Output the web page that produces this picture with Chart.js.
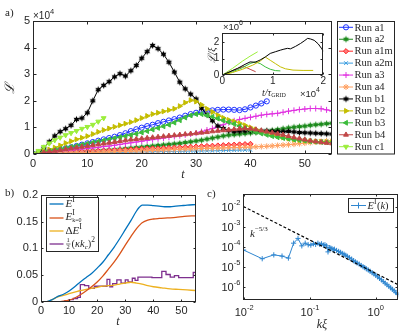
<!DOCTYPE html>
<html><head><meta charset="utf-8">
<script src="https://cdn.jsdelivr.net/npm/chart.js@4.4.1/dist/chart.umd.min.js"></script>
<style>
html,body{margin:0;padding:0;background:#fff;width:403px;height:335px;overflow:hidden;position:relative}
canvas{position:absolute}
</style></head><body>
<canvas id="ca" width="403" height="180" style="left:0;top:0"></canvas>
<canvas id="ci" width="135" height="80" style="left:200px;top:20px"></canvas>
<canvas id="cb" width="200" height="165" style="left:0;top:170px"></canvas>
<canvas id="cc" width="203" height="165" style="left:200px;top:170px"></canvas>
<script>
// ---------------- DATA ----------------
// panel a: time axis and L (x10^4) per run
const tSteps = [0,1,2,3,4,5,6,7,8,9,10,11,12,13,14,15,16,17,18,19,20,21,22,23,24,25,26,27,28,29,30,31,32,33,34,35,36,37,38,39,40,41,42,43,44,45,46,47,48,49,50,51,52,53,54,55];
const runA1 = [0,0.03,0.06,0.1,0.13,0.17,0.21,0.25,0.3,0.35,0.4,0.45,0.5,0.55,0.6,0.65,0.71,0.78,0.86,0.93,0.99,1.05,1.1,1.16,1.21,1.26,1.31,1.37,1.44,1.5,1.55,1.58,1.61,1.64,1.66,1.67,1.67,1.66,1.65,1.68,1.75,1.82,1.9,1.98];
const runA2 = [0,0.01,0.02,0.03,0.04,0.05,0.06,0.07,0.08,0.09,0.1,0.11,0.12,0.13,0.15,0.16,0.18,0.2,0.22,0.24,0.26,0.28,0.3,0.32,0.34,0.36,0.38,0.4,0.43,0.46,0.49,0.52,0.56,0.6,0.64,0.68,0.71,0.73,0.75,0.77,0.79,0.81,0.83,0.86,0.89,0.92,0.95,0.98,1.01,1.03,1.05,1.08,1.1,1.12,1.14,1.16];
const runA1m = [0,0.01,0.03,0.04,0.05,0.06,0.07,0.08,0.09,0.1,0.1,0.11,0.12,0.13,0.14,0.15,0.15,0.16,0.17,0.18,0.19,0.2,0.21,0.21,0.22,0.23,0.24,0.25,0.26,0.27,0.28,0.29,0.3,0.31,0.32,0.33,0.34,0.35,0.36,0.37,0.38];
const runA2m = [0,0.005,0.01,0.015,0.02,0.025,0.03,0.03,0.035,0.04,0.04,0.045,0.05,0.05,0.055,0.06,0.06,0.065,0.07,0.07,0.075,0.08,0.085,0.09,0.09,0.095,0.1,0.1,0.105,0.11,0.11,0.115,0.12,0.12,0.125,0.13,0.135,0.14,0.145,0.15,0.155];
const runA3 = [0,0.02,0.04,0.06,0.08,0.1,0.12,0.14,0.16,0.19,0.21,0.23,0.25,0.28,0.3,0.33,0.36,0.39,0.42,0.45,0.48,0.51,0.54,0.57,0.6,0.63,0.66,0.69,0.72,0.75,0.78,0.84,0.9,0.96,1.03,1.1,1.18,1.25,1.3,1.34,1.38,1.42,1.46,1.49,1.51,1.53,1.57,1.61,1.64,1.67,1.69,1.71,1.71,1.7,1.66,1.62];
const runA4 = [0,0.005,0.01,0.015,0.02,0.025,0.03,0.035,0.04,0.045,0.05,0.057,0.064,0.071,0.078,0.085,0.092,0.1,0.107,0.114,0.12,0.128,0.136,0.144,0.152,0.16,0.168,0.176,0.184,0.192,0.2,0.206,0.212,0.218,0.224,0.23,0.236,0.242,0.248,0.254,0.26,0.27,0.28,0.29,0.305,0.32,0.335,0.35,0.37,0.39,0.41,0.43,0.45,0.47,0.49,0.5];
const runB1 = [0,0.05,0.22,0.46,0.68,0.84,0.95,1.08,1.3,1.35,1.55,2.0,2.42,2.58,2.72,2.9,3.02,2.93,3.13,3.33,3.6,3.85,4.08,3.96,3.75,3.45,3.08,2.7,2.45,2.25,2.07,1.72,1.48,1.25,1.05,0.96,0.88,0.85,0.86,0.87,0.88,0.87,0.86,0.86,0.85,0.84,0.84,0.85,0.83,0.81,0.8,0.79,0.78,0.77,0.76,0.75];
const runB2 = [0,0.03,0.1,0.17,0.24,0.32,0.41,0.48,0.55,0.61,0.67,0.75,0.83,0.9,0.96,1.02,1.08,1.14,1.2,1.27,1.35,1.43,1.5,1.55,1.6,1.65,1.7,1.8,1.93,2.02,1.97,1.85,1.7,1.58,1.46,1.36,1.28,1.22,1.16,1.08,1.0,0.92,0.85,0.78,0.72,0.67,0.62,0.58,0.55,0.52,0.5,0.48,0.47,0.46,0.45,0.44];
const runB3 = [0,0.03,0.07,0.11,0.15,0.19,0.23,0.27,0.31,0.35,0.39,0.43,0.47,0.51,0.55,0.59,0.63,0.67,0.71,0.76,0.81,0.86,0.92,0.98,1.04,1.1,1.18,1.27,1.37,1.45,1.5,1.5,1.45,1.4,1.33,1.26,1.2,1.13,1.05,0.97,0.9,0.83,0.77,0.72,0.67,0.63,0.6,0.57,0.54,0.52,0.5,0.48,0.46,0.45,0.44,0.43];
const runB4 = [0,0.03,0.06,0.09,0.12,0.15,0.18,0.21,0.24,0.27,0.3,0.33,0.36,0.39,0.42,0.45,0.48,0.51,0.54,0.56,0.58,0.6,0.62,0.64,0.66,0.68,0.7,0.72,0.74,0.76,0.78,0.8,0.82,0.85,0.87,0.89,0.91,0.93,0.95,0.96,0.95,0.92,0.88,0.84,0.8,0.76,0.72,0.67,0.62,0.58,0.54,0.5,0.47,0.44,0.42,0.4];
const runC1 = [0,0.12,0.27,0.4,0.52,0.62,0.71,0.79,0.87,0.95,1.02,1.1,1.22,1.35];
const runNames = ['Run a1','Run a2','Run a1m','Run a2m','Run a3','Run a4','Run b1','Run b2','Run b3','Run b4','Run c1'];
const aXTicks = [0,10,20,30,40,50];
const aYTicks = [0,1,2,3,4,5];

// inset: t/tau_GRID (x10^4) and L/xi (x10^6)
const insT_b1 = [0,0.15,0.3,0.45,0.55,0.65,0.75,0.85,0.95,1.05,1.15,1.22,1.29,1.35,1.45,1.55,1.62,1.69,1.75,1.82,1.9,1.97,2.0];
const insL_b1 = [0,0.2,0.4,0.65,0.8,0.78,0.92,1.1,1.32,1.42,1.52,1.58,1.63,1.6,1.75,1.93,2.08,2.24,2.2,2.12,1.9,1.6,1.45];
const insT_c1 = [0,0.2,0.4,0.55,0.7];
const insL_c1 = [0,0.4,0.85,1.15,1.42];
const insT_b2 = [0,0.2,0.4,0.6,0.75,0.85,0.95,1.05,1.15,1.25,1.4,1.6,1.8];
const insL_b2 = [0,0.15,0.35,0.6,0.85,1.1,0.9,0.7,0.5,0.38,0.3,0.28,0.28];
const insT_b3 = [0,0.2,0.4,0.55,0.65,0.75,0.85,0.95,1.05,1.15];
const insL_b3 = [0,0.2,0.45,0.7,0.8,0.7,0.5,0.35,0.27,0.25];
const insT_b4 = [0,0.15,0.3,0.43,0.55,0.66];
const insL_b4 = [0,0.2,0.4,0.52,0.35,0.2];
const insXTicks = [0,1,2];
const insYTicks = [0,1,2];

// panel b
const tE = [0,2,4,6,8,10,12,14,16,18,20,22,24,26,28,30,32,34,35,36,38,40,42,44,46,48,50,52,55];
const vE = [0,0,0.004,0.01,0.014,0.02,0.028,0.037,0.045,0.053,0.063,0.074,0.088,0.102,0.118,0.135,0.152,0.17,0.177,0.181,0.181,0.18,0.179,0.178,0.178,0.179,0.18,0.181,0.182];
const tEk0 = [0,6,8,10,12,14,16,18,20,22,24,26,28,30,32,34,35,36,38,40,42,45,48,51,55];
const vEk0 = [0,0,0.001,0.003,0.007,0.013,0.02,0.028,0.037,0.048,0.061,0.074,0.089,0.106,0.122,0.137,0.143,0.148,0.153,0.155,0.156,0.157,0.158,0.16,0.161];
const tDE = [0,2,4,6,8,10,12,14,16,18,20,22,24,26,28,30,32,34,36,38,40,43,46,49,52,55];
const vDE = [0,0,0.004,0.009,0.012,0.015,0.018,0.021,0.023,0.025,0.027,0.029,0.03,0.031,0.033,0.035,0.0365,0.035,0.033,0.03,0.028,0.026,0.024,0.023,0.022,0.021];
const tKap = [0,8.5,10,11.5,13,14,15.5,17,19,23.5,24.5,25.5,27,28.5,30,31,32.5,33.5,34.5,36,39.5,41,43,44.5,46,47.5,49,50.5,53,54.2,55];
const vKap = [0,0.002,0.004,0.006,0.008,0.032,0.03,0.025,0.029,0.042,0.028,0.034,0.041,0.035,0.041,0.037,0.044,0.04,0.046,0.046,0.045,0.045,0.057,0.051,0.046,0.049,0.045,0.045,0.045,0.055,0.05];
const bXTicks = [0,10,20,30,40,50];
const bYTicks = [0,0.05,0.1,0.15,0.2];
const bYLabels = ['0','0.05','0.1','0.15','0.2'];

// panel c
const kXi = [0.0098,0.0188,0.0282,0.0376,0.047,0.0564,0.0658,0.0752,0.0846,0.094,0.103,0.113,0.122,0.132,0.141,0.150,0.160,0.169,0.179,0.188,0.197,0.207,0.216,0.226,0.235,0.254,0.273,0.292,0.31,0.33,0.35,0.37,0.40,0.43,0.46,0.49,0.52,0.56,0.60,0.64,0.68,0.72,0.77,0.82,0.88,0.94,1.0,1.07,1.14,1.22,1.30,1.39,1.48,1.58,1.68,1.79,1.9,2.02,2.14,2.19];
const Ek = [6.8e-5,2.5e-5,3.9e-5,3.4e-5,2.7e-5,1.5e-4,2.6e-4,1.1e-4,1.5e-4,1.25e-4,1.2e-4,1.4e-4,1.3e-4,1.5e-4,1.3e-4,1.4e-4,1.2e-4,1.25e-4,1.1e-4,5.5e-5,9e-5,8.5e-5,8e-5,7e-5,7.5e-5,6.5e-5,5.8e-5,5.2e-5,4.6e-5,4.2e-5,3.7e-5,3.3e-5,2.8e-5,2.4e-5,2.0e-5,1.75e-5,1.55e-5,1.35e-5,1.15e-5,1.0e-5,9e-6,7.8e-6,6.8e-6,5.9e-6,5.0e-6,4.3e-6,3.7e-6,3.1e-6,2.6e-6,2.2e-6,1.8e-6,1.5e-6,1.25e-6,1.05e-6,8.8e-7,7.4e-7,6.2e-7,5.2e-7,4.5e-7,4.0e-7];
const slopeK = [0.0097, 2.2];
const slopeE = [1.03e-2, 1.25e-6];
const cXTicks = [0.01, 0.1, 1];
const cXExp = ['-2','-1','0'];
const cYTicks = [1e-2, 1e-3, 1e-4, 1e-5, 1e-6];
const cYExp = ['-2','-3','-4','-5','-6'];

// ---------------- STYLE / HELPERS ----------------
const SANS = '"Liberation Sans", Arial, Helvetica, sans-serif';
const SERIF = '"Liberation Serif", "Times New Roman", "DejaVu Serif", serif';
const AX = '#262626';
Chart.defaults.font.family = SANS;
Chart.defaults.color = AX;
const S = s => s + 'px ' + SERIF;
const IS = s => 'italic ' + s + 'px ' + SERIF;
const SS = s => s + 'px ' + SANS;

function makeHex(color, r) {
  const s = Math.ceil(2 * r + 2);
  const c = document.createElement('canvas'); c.width = s; c.height = s;
  const g = c.getContext('2d'); g.translate(s / 2, s / 2);
  g.beginPath();
  for (let i = 0; i < 12; i++) {
    const a = -Math.PI / 2 + i * Math.PI / 6, rr = i % 2 ? r * 0.55 : r;
    const px = rr * Math.cos(a), py = rr * Math.sin(a);
    i ? g.lineTo(px, py) : g.moveTo(px, py);
  }
  g.closePath(); g.fillStyle = color; g.fill();
  return c;
}

const runStyles = [
  {c:'#1f33ff', ps:'circle', bg:'rgba(0,0,0,0)', rot:0, r:2.6},
  {c:'#1c8a1c', ps:makeHex('#1c8a1c', 3.4), bg:'#1c8a1c', rot:0, r:3},
  {c:'#ff2424', ps:'rectRot', bg:'#ff7a7a', rot:0, r:2.6},
  {c:'#3a9ee0', ps:'crossRot', bg:'#3a9ee0', rot:0, r:2.6},
  {c:'#e030e0', ps:'cross', bg:'#e030e0', rot:0, r:3},
  {c:'#ffa060', ps:'star', bg:'#ffa060', rot:0, r:3},
  {c:'#000000', ps:makeHex('#000000', 3.4), bg:'#000000', rot:0, r:3},
  {c:'#c4bd00', ps:'triangle', bg:'#c4bd00', rot:90, r:2.8},
  {c:'#3cbc3c', ps:'triangle', bg:'#3cbc3c', rot:-90, r:2.8},
  {c:'#c04646', ps:'triangle', bg:'#c04646', rot:0, r:2.8},
  {c:'#9cee3c', ps:'triangle', bg:'#9cee3c', rot:180, r:2.8}
];
const runData = [runA1, runA2, runA1m, runA2m, runA3, runA4, runB1, runB2, runB3, runB4, runC1];

function xy(xs, ys) { return ys.map((v, i) => ({x: xs[i], y: v})); }

function segW(ctx, segs) {
  let w = 0;
  for (const s of segs) { ctx.font = s.f; if (!s.keep) w += ctx.measureText(s.t).width + (s.dx || 0); }
  return w;
}
function drawSegs(ctx, x, y, segs, align) {
  let cx = x;
  if (align === 'center') cx = x - segW(ctx, segs) / 2;
  if (align === 'right') cx = x - segW(ctx, segs);
  ctx.textBaseline = 'middle'; ctx.textAlign = 'left';
  for (const s of segs) {
    ctx.font = s.f;
    ctx.fillText(s.t, cx + (s.dx || 0), y + (s.dy || 0));
    if (!s.keep) cx += ctx.measureText(s.t).width + (s.dx || 0);
  }
  return cx;
}

function frame(tl) {
  return {
    id: 'frame',
    afterDatasetsDraw(chart) {
      const {ctx, chartArea: a, scales} = chart;
      ctx.save();
      ctx.strokeStyle = AX; ctx.lineWidth = 1;
      const L = Math.round(a.left) + 0.5, R = Math.round(a.right) - 0.5;
      const T = Math.round(a.top) + 0.5, B = Math.round(a.bottom) - 0.5;
      ctx.beginPath();
      for (const t of scales.x.ticks) {
        const p = Math.round(scales.x.getPixelForValue(t.value)) + 0.5;
        ctx.moveTo(p, B); ctx.lineTo(p, B - tl);
        ctx.moveTo(p, T); ctx.lineTo(p, T + tl);
      }
      for (const t of scales.y.ticks) {
        const p = Math.round(scales.y.getPixelForValue(t.value)) + 0.5;
        ctx.moveTo(L, p); ctx.lineTo(L + tl, p);
        ctx.moveTo(R, p); ctx.lineTo(R - tl, p);
      }
      ctx.stroke();
      ctx.strokeRect(L, T, R - L, B - T);
      ctx.restore();
    }
  };
}
// tick labels drawn at the library's own tick pixels
function tickText(size, xLabels, yLabels, xdy, ydx) {
  return {
    id: 'tickText',
    afterDraw(chart) {
      const {ctx, chartArea: a, scales} = chart;
      ctx.save(); ctx.fillStyle = AX; ctx.font = SS(size); ctx.textBaseline = 'middle';
      ctx.textAlign = 'center';
      scales.x.ticks.forEach((t, i) => ctx.fillText(xLabels ? xLabels[i] : String(t.value), scales.x.getPixelForValue(t.value), a.bottom + xdy));
      ctx.textAlign = 'right';
      scales.y.ticks.forEach((t, i) => ctx.fillText(yLabels ? yLabels[i] : String(t.value), a.left - ydx, scales.y.getPixelForValue(t.value)));
      ctx.restore();
    }
  };
}
function fitAxis(w, h) {
  return function (s) {
    if (w !== null) s.width = w;
    if (h !== null) s.height = h;
    s.paddingLeft = 0; s.paddingRight = 0; s.paddingTop = 0; s.paddingBottom = 0;
  };
}
function baseOpts(pad) {
  return {
    responsive: false, animation: false, devicePixelRatio: 1, events: [],
    layout: {autoPadding: false, padding: pad},
    plugins: {legend: {display: false}, tooltip: {enabled: false}, title: {display: false}}
  };
}
function linAxis(min, max, ticks, fit) {
  return {
    type: 'linear', min: min, max: max,
    afterBuildTicks: s => { s.ticks = ticks.map(v => ({value: v})); },
    ticks: {display: false}, grid: {display: false}, border: {display: false}, afterFit: fit
  };
}
function logAxis(min, max, ticks, fit) {
  return {
    type: 'logarithmic', min: min, max: max,
    afterBuildTicks: s => { s.ticks = ticks.map(v => ({value: v})); },
    ticks: {display: false}, grid: {display: false}, border: {display: false}, afterFit: fit
  };
}
function mkPoint(ctx, st, x, y) {
  ctx.save();
  ctx.strokeStyle = st.c; ctx.fillStyle = st.bg; ctx.lineWidth = 1;
  Chart.helpers.drawPoint(ctx, {pointStyle: st.ps, rotation: st.rot, radius: st.r, borderWidth: 1}, x, y);
  ctx.restore();
}

// ---------------- PANEL A ----------------
const annotA = {
  id: 'annotA',
  afterDraw(chart) {
    const ctx = chart.ctx;
    ctx.save();
    ctx.fillStyle = AX;
    drawSegs(ctx, 5, 13, [{t: 'a)', f: S(11)}]);
    drawSegs(ctx, 33, 16, [{t: '×10', f: SS(10)}, {t: '4', f: SS(7.5), dy: -4}]);
    drawSegs(ctx, 183, 175, [{t: 't', f: IS(12)}], 'center');
    ctx.save(); ctx.translate(11, 88); ctx.rotate(-Math.PI / 2);
    drawSegs(ctx, 0, 0, [{t: 'ℒ', f: IS(13)}], 'center');
    ctx.restore();
    // legend
    const bx = 337.5, by = 21.5, bw = 57, bh = 132.5;
    ctx.fillStyle = '#fff'; ctx.fillRect(bx, by, bw, bh);
    ctx.strokeStyle = AX; ctx.lineWidth = 1; ctx.strokeRect(bx, by, bw, bh);
    for (let i = 0; i < runNames.length; i++) {
      const y = 27.3 + i * 11.94, st = runStyles[i];
      ctx.strokeStyle = st.c; ctx.lineWidth = 1;
      ctx.beginPath(); ctx.moveTo(339, y); ctx.lineTo(353, y); ctx.stroke();
      mkPoint(ctx, st, 346, y);
      ctx.fillStyle = AX;
      drawSegs(ctx, 354.5, y + 0.5, [{t: runNames[i], f: S(10.5)}]);
    }
    ctx.restore();
  }
};
new Chart(document.getElementById('ca'), {
  type: 'line',
  data: {datasets: runData.map((vals, i) => ({
    label: runNames[i], data: xy(tSteps, vals), order: 100 - i,
    borderColor: runStyles[i].c, borderWidth: 1, fill: false, tension: 0,
    pointStyle: runStyles[i].ps, pointRadius: runStyles[i].r, pointRotation: runStyles[i].rot,
    pointBorderColor: runStyles[i].c, pointBackgroundColor: runStyles[i].bg, pointBorderWidth: 1
  }))},
  options: Object.assign(baseOpts({left: 8, top: 21, right: 71, bottom: 6}), {
    scales: {
      x: linAxis(0, 55, aXTicks, fitAxis(null, 20)),
      y: linAxis(0, 5, aYTicks, fitAxis(25, null))
    }
  }),
  plugins: [frame(3), tickText(11, null, null, 10, 3), annotA]
});

// ---------------- INSET ----------------
const insetBg = {
  id: 'insetBg',
  beforeDraw(chart) {
    const {ctx, chartArea: a} = chart;
    ctx.save(); ctx.fillStyle = '#fff'; ctx.fillRect(a.left, a.top, a.right - a.left, a.bottom - a.top); ctx.restore();
  },
  afterDraw(chart) {
    const ctx = chart.ctx;
    ctx.save(); ctx.fillStyle = AX;
    drawSegs(ctx, 23, 7.5, [{t: '×10', f: SS(9.5)}, {t: '6', f: SS(7), dy: -4}]);
    drawSegs(ctx, 100, 74, [{t: '×10', f: SS(9.5)}, {t: '4', f: SS(7), dy: -4}]);
    drawSegs(ctx, 62, 73, [{t: 't/τ', f: IS(10)}, {t: 'GRID', f: S(6), dy: 2.5}]);
    ctx.translate(12, 35); ctx.rotate(-Math.PI / 2);
    drawSegs(ctx, 0, 0, [{t: 'ℒ/ξ', f: IS(10)}], 'center');
    ctx.restore();
  }
};
const insetSets = [
  [insT_b1, insL_b1, '#000000'], [insT_c1, insL_c1, '#9cee3c'], [insT_b2, insL_b2, '#c4bd00'],
  [insT_b3, insL_b3, '#3cbc3c'], [insT_b4, insL_b4, '#c04646']
];
new Chart(document.getElementById('ci'), {
  type: 'line',
  data: {datasets: insetSets.map(d => ({data: xy(d[0], d[1]), borderColor: d[2], borderWidth: 1, pointRadius: 0, fill: false, tension: 0}))},
  options: Object.assign(baseOpts({left: 8.3, top: 13.3, right: 11.7, bottom: 10}), {
    scales: {
      x: linAxis(0, 2, insXTicks, fitAxis(null, 15)),
      y: linAxis(0, 2.55, insYTicks, fitAxis(14, null))
    }
  }),
  plugins: [insetBg, frame(2), tickText(10, null, null, 6, 3)]
});

// ---------------- PANEL B ----------------
const annotB = {
  id: 'annotB',
  afterDraw(chart) {
    const ctx = chart.ctx;
    ctx.save(); ctx.fillStyle = AX;
    drawSegs(ctx, 5, 23, [{t: 'b)', f: S(11)}]);
    drawSegs(ctx, 118, 152, [{t: 't', f: IS(12)}], 'center');
    const bx = 46.5, by = 27.5, bw = 52, bh = 54;
    ctx.fillStyle = '#fff'; ctx.fillRect(bx, by, bw, bh);
    ctx.strokeStyle = AX; ctx.lineWidth = 1; ctx.strokeRect(bx, by, bw, bh);
    const rows = [34, 48, 61, 74];
    const cols = ['#0072BD', '#D95319', '#EDB120', '#7E2F8E'];
    rows.forEach((y, i) => {
      ctx.strokeStyle = cols[i]; ctx.lineWidth = 1.3;
      ctx.beginPath(); ctx.moveTo(49.5, y); ctx.lineTo(63.5, y); ctx.stroke();
    });
    ctx.fillStyle = AX;
    drawSegs(ctx, 65.5, 34, [{t: 'E', f: IS(11)}, {t: 'I', f: S(8), dy: -4}]);
    drawSegs(ctx, 65.5, 47, [{t: 'E', f: IS(11)}, {t: 'I', f: S(8), dy: -4.5, keep: true}, {t: 'k=0', f: S(6), dy: 3.5}]);
    drawSegs(ctx, 65.5, 61, [{t: 'Δ', f: S(11)}, {t: 'E', f: IS(11)}, {t: 'I', f: S(8), dy: -4}]);
    ctx.font = S(6.5); ctx.textAlign = 'center'; ctx.textBaseline = 'middle';
    ctx.fillText('1', 68, 70.5); ctx.fillText('2', 68, 77.5);
    ctx.strokeStyle = AX; ctx.lineWidth = 0.6; ctx.beginPath(); ctx.moveTo(66, 74); ctx.lineTo(70.5, 74); ctx.stroke();
    drawSegs(ctx, 71.5, 74, [{t: '(', f: S(10.5)}, {t: 'κk', f: IS(10.5)}, {t: 'c', f: IS(7), dy: 3}, {t: ')', f: S(10.5)}, {t: '2', f: S(7.5), dy: -4}]);
    ctx.restore();
  }
};
new Chart(document.getElementById('cb'), {
  type: 'line',
  data: {datasets: [
    {data: xy(tE, vE), borderColor: '#0072BD', borderWidth: 1.3, pointRadius: 0, fill: false, cubicInterpolationMode: 'monotone'},
    {data: xy(tEk0, vEk0), borderColor: '#D95319', borderWidth: 1.3, pointRadius: 0, fill: false, cubicInterpolationMode: 'monotone'},
    {data: xy(tDE, vDE), borderColor: '#EDB120', borderWidth: 1.3, pointRadius: 0, fill: false, cubicInterpolationMode: 'monotone'},
    {data: xy(tKap, vKap), borderColor: '#7E2F8E', borderWidth: 1.3, pointRadius: 0, fill: false, stepped: true}
  ]},
  options: Object.assign(baseOpts({left: 11, top: 25, right: 4.5, bottom: 13.3}), {
    scales: {
      x: linAxis(0, 55, bXTicks, fitAxis(null, 20)),
      y: linAxis(0, 0.2, bYTicks, fitAxis(30, null))
    }
  }),
  plugins: [frame(2), tickText(11, null, bYLabels, 9, 3), annotB]
});

// ---------------- PANEL C ----------------
const annotC = {
  id: 'annotC',
  afterDraw(chart) {
    const {ctx, scales} = chart;
    const a = chart.chartArea;
    ctx.save(); ctx.fillStyle = AX;
    drawSegs(ctx, 7, 24, [{t: 'c)', f: S(11)}]);
    cXTicks.forEach((v, i) => {
      const x = scales.x.getPixelForValue(v);
      drawSegs(ctx, x, 143, [{t: '10', f: SS(11)}, {t: cXExp[i], f: SS(7.5), dy: -5}], 'center');
    });
    cYTicks.forEach((v, i) => {
      const y = scales.y.getPixelForValue(v);
      drawSegs(ctx, a.left - 3, y + 1, [{t: '10', f: SS(11)}, {t: cYExp[i], f: SS(7.5), dy: -5}], 'right');
    });
    drawSegs(ctx, 122, 155, [{t: 'kξ', f: IS(12)}], 'center');
    drawSegs(ctx, 50, 64, [{t: 'k', f: IS(11)}, {t: '−5/3', f: S(7), dy: -5}]);
    const bx = 148.5, by = 28.5, bw = 45, bh = 14;
    ctx.fillStyle = '#fff'; ctx.fillRect(bx, by, bw, bh);
    ctx.strokeStyle = AX; ctx.lineWidth = 1; ctx.strokeRect(bx, by, bw, bh);
    ctx.strokeStyle = '#2f86d0'; ctx.beginPath(); ctx.moveTo(151, 35.5); ctx.lineTo(166, 35.5); ctx.stroke();
    mkPoint(ctx, {c: '#2f86d0', bg: '#2f86d0', ps: 'cross', rot: 0, r: 3}, 158.5, 35.5);
    ctx.fillStyle = AX;
    drawSegs(ctx, 167.5, 36, [{t: 'E', f: IS(10.5)}, {t: 'I', f: S(7.5), dy: -4}, {t: '(', f: S(10.5), dx: 0.5}, {t: 'k', f: IS(10.5)}, {t: ')', f: S(10.5)}]);
    ctx.restore();
  }
};
new Chart(document.getElementById('cc'), {
  type: 'line',
  data: {datasets: [
    {data: xy(slopeK, slopeE), borderColor: '#000', borderWidth: 1.2, borderDash: [3, 2], pointRadius: 0, fill: false},
    {data: xy(kXi, Ek), borderColor: '#2f86d0', borderWidth: 1, pointStyle: 'cross', pointRadius: 2.6, pointBorderWidth: 1, pointBorderColor: '#2f86d0', pointBackgroundColor: '#2f86d0', fill: false, tension: 0}
  ]},
  options: Object.assign(baseOpts({left: 13.3, top: 24.3, right: 4.7, bottom: 15}), {
    scales: {
      x: logAxis(0.0097, 2.2, cXTicks, fitAxis(null, 20)),
      y: logAxis(2.16e-7, 4.17e-2, cYTicks, fitAxis(30, null))
    }
  }),
  plugins: [frame(2), annotC]
});
</script>
</body></html>
